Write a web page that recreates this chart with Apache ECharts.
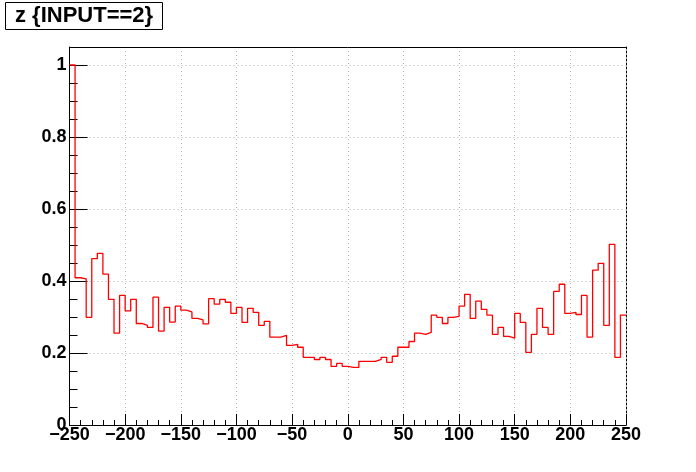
<!DOCTYPE html>
<html>
<head>
<meta charset="utf-8">
<script src="https://cdn.jsdelivr.net/npm/echarts@6/dist/echarts.min.js"></script>
<style>html,body{margin:0;padding:0;background:#fff}#c{width:696px;height:472px}</style>
</head>
<body>
<div id="c"></div>
<script>
// Histogram: 100 bins of width 5 from -250 to 250
const titleText = 'z {INPUT==2}';
const binLow = -250;
const binWidth = 5;
const binValues = [
  1.000, 0.409, 0.406, 0.299, 0.462, 0.477, 0.419, 0.349, 0.255, 0.360,
  0.317, 0.349, 0.282, 0.277, 0.271, 0.355, 0.261, 0.327, 0.286, 0.330,
  0.319, 0.314, 0.296, 0.292, 0.281, 0.351, 0.336, 0.349, 0.341, 0.310,
  0.327, 0.285, 0.324, 0.313, 0.277, 0.288, 0.244, 0.244, 0.249, 0.221,
  0.224, 0.216, 0.188, 0.188, 0.182, 0.188, 0.182, 0.163, 0.171, 0.163,
  0.160, 0.160, 0.177, 0.177, 0.177, 0.182, 0.188, 0.174, 0.191, 0.216,
  0.216, 0.232, 0.255, 0.252, 0.257, 0.305, 0.299, 0.282, 0.299, 0.302,
  0.330, 0.363, 0.296, 0.344, 0.321, 0.305, 0.252, 0.271, 0.246, 0.241,
  0.310, 0.285, 0.202, 0.252, 0.324, 0.271, 0.252, 0.371, 0.391, 0.310,
  0.313, 0.307, 0.360, 0.244, 0.430, 0.449, 0.277, 0.502, 0.188, 0.305
];
const xTicks = [-250, -200, -150, -100, -50, 0, 50, 100, 150, 200, 250];
const yTicks = [0, 0.2, 0.4, 0.6, 0.8, 1];

const points = binValues.map((v, i) => [binLow + binWidth * i, v]);
points.push([binLow + binWidth * binValues.length, binValues[binValues.length - 1]]);

const FONT = '"Liberation Sans", Arial, Helvetica, sans-serif';
const grid = '#b4b4b4';
const chart = echarts.init(document.getElementById('c'), null, {renderer: 'canvas'});
chart.setOption({
  animation: false,
  backgroundColor: '#fff',
  title: {
    text: titleText,
    left: 5, top: 2,
    padding: [3, 10, 3, 10],
    borderColor: '#000', borderWidth: 1,
    backgroundColor: '#fff',
    textStyle: {fontFamily: FONT, fontSize: 22, fontWeight: 'bold', color: '#000', lineHeight: 22}
  },
  grid: {left: 69.5, right: 70, top: 47, bottom: 47, outerBoundsMode: 'none'},
  xAxis: [{
    type: 'value', min: xTicks[0], max: xTicks[xTicks.length - 1], interval: 50,
    position: 'bottom',
    axisLine: {show: true, onZero: false, lineStyle: {color: '#000', width: 1}},
    axisTick: {show: true, inside: true, length: 11, lineStyle: {color: '#000', width: 1}},
    minorTick: {show: true, splitNumber: 5, length: 5, lineStyle: {color: '#000', width: 1}},
    splitLine: {show: true, showMinLine: false, showMaxLine: false, lineStyle: {color: grid, width: 1, type: [1, 3]}},
    axisLabel: {fontFamily: FONT, fontSize: 18, fontWeight: 'bold', color: '#000', margin: 1,
      formatter: v => String(v).replace('-', '\u2212')}
  }, {
    type: 'value', min: xTicks[0], max: xTicks[xTicks.length - 1], position: 'top',
    axisLine: {show: true, onZero: false, lineStyle: {color: '#000', width: 1}},
    axisTick: {show: false}, axisLabel: {show: false}, splitLine: {show: false}
  }],
  yAxis: [{
    type: 'value', min: 0, max: 1.05, interval: 0.2,
    axisLine: {show: true, onZero: false, lineStyle: {color: '#000', width: 1}},
    axisTick: {show: true, inside: true, length: 18, lineStyle: {color: '#000', width: 1}},
    minorTick: {show: true, splitNumber: 4, length: 8, lineStyle: {color: '#000', width: 1}},
    splitLine: {show: true, showMinLine: false, showMaxLine: false, lineStyle: {color: grid, width: 1, type: [1, 3]}},
    axisLabel: {fontFamily: FONT, fontSize: 18, fontWeight: 'bold', color: '#000', margin: 3,
      formatter: v => (v > yTicks[yTicks.length - 1] + 1e-6) ? '' : String(+v.toFixed(1))}
  }, {
    type: 'value', min: 0, max: 1.05, position: 'right',
    axisLine: {show: true, onZero: false, lineStyle: {color: '#000', width: 1, type: [2, 2]}},
    axisTick: {show: false}, axisLabel: {show: false}, splitLine: {show: false}
  }],
  series: [{
    type: 'line', step: 'end', xAxisIndex: 0, yAxisIndex: 0,
    data: points, symbol: 'none', silent: true,
    lineStyle: {color: '#ff0000', width: 1.3}
  }]
});
</script>
</body>
</html>
